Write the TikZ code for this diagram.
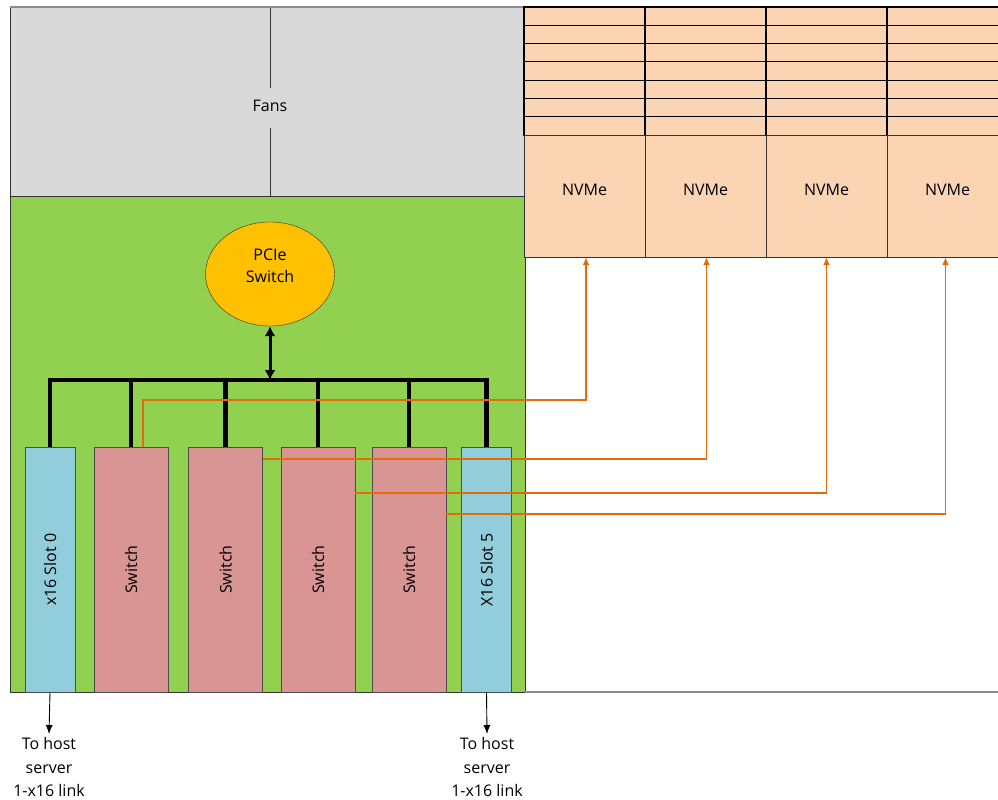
\documentclass[tikz,border=0pt]{standalone}
\usepackage{fontspec}
\setmainfont{Open Sans}
\usetikzlibrary{arrows.meta,shapes.geometric}
\definecolor{fangray}{HTML}{D9D9D9}
\definecolor{boardgreen}{HTML}{92D050}
\definecolor{drivepeach}{HTML}{FBD4B4}
\definecolor{switchred}{HTML}{D99594}
\definecolor{slotblue}{HTML}{92CDDC}
\definecolor{pcieorange}{HTML}{FFC000}
\definecolor{linkorange}{HTML}{E36C09}
\tikzset{>=latex}

\begin{document}
\begin{tikzpicture}[x=1pt,y=-1pt,
    font=\fontsize{16}{22}\selectfont,
    card/.style={draw=black!70, minimum width=#1, minimum height=245pt, inner sep=0pt, anchor=north},
    bus/.style={line width=4.5pt},
    link/.style={linkorange, line width=1.5pt, -{Latex[length=8pt,width=7pt]}},
    host/.style={-{Latex[length=9pt,width=7pt]}, line width=0.9pt}]
  \useasboundingbox (0,0) rectangle (998,800);

  % chassis
  \draw[fill=fangray, draw=black!80] (10,7) rectangle (525,196);
  \draw[black!80] (270,7) -- (270,88) (270,128) -- (270,196);
  \node (fans) at (270,106) {Fans};
  \draw[fill=boardgreen, draw=black!80] (10,196) rectangle (525,692);
  \draw[black!45, line width=1.5pt] (10,7) -- (998,7);
  \draw[black!45, line width=1.5pt] (525,692) -- (998,692);

  % drive bays
  \foreach \r in {0,...,6}
    \foreach \c in {0,...,3}
      \draw[fill=drivepeach, draw=black, line width=1.1pt] (524+121*\c,7+18.3*\r) rectangle ++(121,18.3);
  \foreach \c in {1,...,4}
    \node[draw=black!80, fill=drivepeach, minimum width=121pt, minimum height=122pt, inner sep=0pt, text depth=12pt]
      (nv\c) at (463.5+121*\c,196) {NVMe};

  % pcie switch
  \node[ellipse, draw=black!80, fill=pcieorange, minimum width=129pt, minimum height=104pt, align=center, text depth=17pt]
    (pcie) at (270,274) {PCIe\\Switch};
  \coordinate (bus) at (270,380);

  % slots
  \node[card=50pt, fill=slotblue] (s0) at (50,447) {\rotatebox{90}{x16 Slot 0}};
  \node[card=74pt, fill=switchred] (sw1) at (131,447) {\rotatebox{90}{Switch}};
  \node[card=74pt, fill=switchred] (sw2) at (225.5,447) {\rotatebox{90}{Switch}};
  \node[card=74pt, fill=switchred] (sw3) at (318,447) {\rotatebox{90}{Switch}};
  \node[card=74pt, fill=switchred] (sw4) at (409,447) {\rotatebox{90}{Switch}};
  \node[card=50pt, fill=slotblue] (s5) at (486.5,447) {\rotatebox{90}{X16 Slot 5}};

  % bus
  \draw[bus] (s0.north) -- (s0.north |- bus) -- (s5.north |- bus) -- (s5.north);
  \foreach \n in {sw1,sw2,sw3,sw4}
    \draw[bus] (\n.north) -- (\n.north |- bus);
  \draw[line width=3pt, {Latex[length=10pt,width=11pt]}-{Latex[length=10pt,width=11pt]}] (pcie.south) -- (bus);

  % links to drives
  \coordinate (p1) at ([xshift=12pt]sw1.north);
  \coordinate (r1) at (0,400);
  \draw[link] (p1) -- (p1 |- r1) -| ([xshift=1.5pt]nv1.south);
  \draw[link] ([yshift=-12pt]sw2.north east) -| ([xshift=1pt]nv2.south);
  \draw[link] ([yshift=-46pt]sw3.north east) -| (nv3.south);
  \draw[link] ([yshift=-67pt]sw4.north east) -| ([xshift=-2pt]nv4.south);

  % host links
  \node[anchor=north, align=center, font=\fontsize{16}{23.5}\selectfont] (h0) at (49,734) {To host\\server\\1-x16 link};
  \node[anchor=north, align=center, font=\fontsize{16}{23.5}\selectfont] (h5) at (487,734) {To host\\server\\1-x16 link};
  \draw[host] (s0.south) -- (h0.north);
  \draw[host] (s5.south) -- (h5.north);
\end{tikzpicture}
\end{document}
